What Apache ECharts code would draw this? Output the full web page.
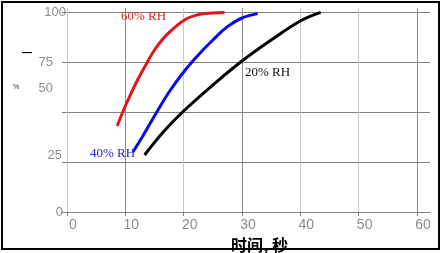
<!DOCTYPE html>
<html>
<head>
<meta charset="utf-8">
<script src="https://cdn.jsdelivr.net/npm/echarts@6/dist/echarts.min.js"></script>
<style>
html,body{margin:0;padding:0;background:#fff;}
#c{width:442px;height:253px;}
</style>
</head>
<body>
<div id="c"></div>
<script>
// Data
const xTickValues = [0, 10, 20, 30, 40, 50, 60];
const yTickValues = [0, 25, 50, 75, 100];
const yTickLabels = ['0', '25', '50', '75', '100'];
const xAxisTitle = '时间, 秒';

const rh60Time = [8.6, 10, 12, 13.6, 15, 17, 20, 22.5, 25, 27];
const rh60Value = [43, 53, 65.5, 74, 81, 88.3, 95.8, 98.7, 99.5, 99.7];
const rh40Time = [11.3, 13, 15.4, 17.5, 20, 22.5, 25, 27.5, 30, 32.7];
const rh40Value = [30, 38, 50, 60, 70, 78.5, 86, 92.7, 97, 99.2];
const rh20Time = [13.3, 16.5, 20, 25, 30, 35, 40, 43.5];
const rh20Value = [28.5, 40, 50.5, 63.5, 75.5, 86, 95.5, 99.8];

const seriesNames = ['60% RH', '40% RH', '20% RH'];

function pairs(xs, ys) { return xs.map((x, i) => [x, ys[i]]); }

const chart = echarts.init(document.getElementById('c'), null, {renderer: 'canvas'});

const labelFont = "'Liberation Sans Narrow', 'Liberation Sans', sans-serif";
const serif = "'Liberation Serif', 'Times New Roman', serif";

// per-label offsets to mimic the reference placement
const yRich = {
  l0: {padding: [0, 4, 0, 0]},
  l1: {padding: [0, 5, 14, 0]},
  l2: {padding: [0, 14, 48, 0]},
  l3: {padding: [0, 14, 0, 0]},
  l4: {padding: [0, 1, 0, 0]}
};
Object.keys(yRich).forEach(k => {
  yRich[k].fontFamily = labelFont; yRich[k].fontSize = 13; yRich[k].color = '#8c8c8c';
});

chart.setOption({
  backgroundColor: '#fff',
  animation: false,
  grid: {left: 67, right: 12, top: 8, bottom: 41, containLabel: false, outerBoundsMode: 'none'},
  title: [
    {text: seriesNames[0], left: 121, top: 10, padding: 0,
     textStyle: {color: '#d42424', fontFamily: serif, fontSize: 13, fontWeight: 'normal'}},
    {text: seriesNames[1], left: 90, top: 147, padding: 0,
     textStyle: {color: '#2323c8', fontFamily: serif, fontSize: 13, fontWeight: 'normal'}},
    {text: seriesNames[2], left: 245, top: 66, padding: 0,
     textStyle: {color: '#111', fontFamily: serif, fontSize: 13, fontWeight: 'normal'}},
    {text: '—', left: 22, top: 48, padding: 0,
     textStyle: {color: '#000', fontSize: 10, fontWeight: 'bold'}},
    {text: '%', left: 13, top: 84, padding: 0,
     textStyle: {color: '#333', fontSize: 7, fontWeight: 'normal'}}
  ],
  graphic: [{
    type: 'rect', shape: {x: 2, y: 2, width: 437, height: 247},
    style: {fill: null, stroke: '#000', lineWidth: 2}, silent: true
  }],
  xAxis: {
    type: 'value', min: 0, max: 62.23, interval: 10,
    name: xAxisTitle, nameLocation: 'middle', nameGap: 18,
    nameTextStyle: {fontFamily: "'Noto Sans CJK SC', sans-serif", fontSize: 16, fontWeight: 'bold', color: '#000', padding: [0, 0, 0, 22]},
    axisLine: {show: true, lineStyle: {color: '#808080', width: 1}},
    axisTick: {show: true, length: 4, customValues: xTickValues, lineStyle: {color: '#808080'}},
    axisLabel: {show: true, customValues: xTickValues, margin: 6, fontFamily: labelFont, fontSize: 14, color: '#8c8c8c', padding: [0, 0, 0, 12],
      formatter: v => String(v)},
    splitLine: {show: true, lineStyle: {width: 1, color: ['#c8c8c8', '#8a8a8a', '#c8c8c8', '#8a8a8a', '#c8c8c8', '#c8c8c8', '#8a8a8a', 'rgba(0,0,0,0)']}}
  },
  yAxis: {
    type: 'value', min: 0, max: 102, interval: 25,
    axisLine: {show: false},
    axisTick: {show: true, length: 5, customValues: yTickValues, lineStyle: {color: '#808080'}},
    axisLabel: {show: true, customValues: yTickValues, margin: 0,
      formatter: v => { const i = yTickValues.indexOf(v); return i < 0 ? '' : '{l' + i + '|' + yTickLabels[i] + '}'; },
      rich: yRich},
    splitLine: {show: true, lineStyle: {width: 1, color: ['#808080', '#808080', '#808080', '#808080', '#808080', 'rgba(0,0,0,0)']}}
  },
  series: [
    {name: seriesNames[0], type: 'line', data: pairs(rh60Time, rh60Value), smooth: 0.4, showSymbol: false,
     lineStyle: {color: '#e0181c', width: 3}},
    {name: seriesNames[1], type: 'line', data: pairs(rh40Time, rh40Value), smooth: 0.4, showSymbol: false,
     lineStyle: {color: '#0a0ae6', width: 3}},
    {name: seriesNames[2], type: 'line', data: pairs(rh20Time, rh20Value), smooth: 0.4, showSymbol: false,
     lineStyle: {color: '#000', width: 3}}
  ]
});
</script>
</body>
</html>
